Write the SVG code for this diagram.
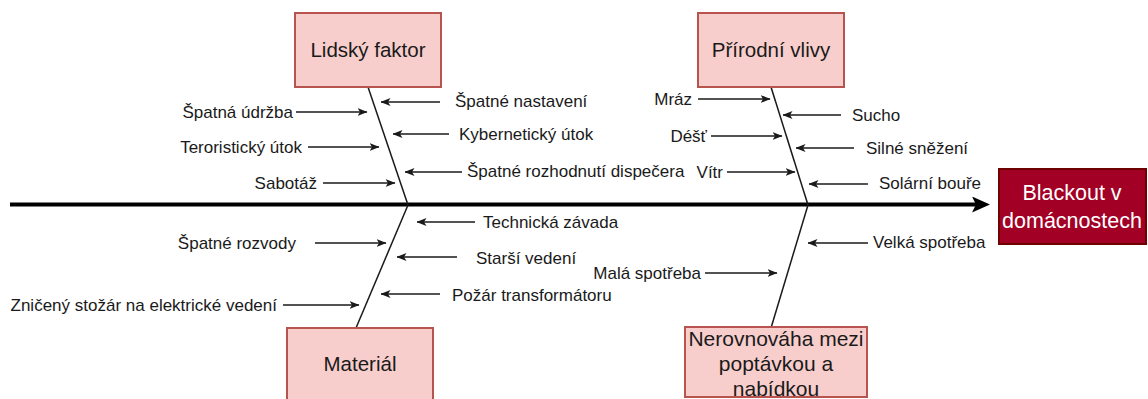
<svg xmlns="http://www.w3.org/2000/svg" width="1148" height="399" viewBox="0 0 1148 399">
<style>
.box{fill:#f8cecc;stroke:#b85450;stroke-width:2}
.eff{fill:#a20025;stroke:#6f0000;stroke-width:2}
.bt{font-family:"Liberation Sans",Arial,sans-serif;font-size:20.5px;fill:#1a1a1a;text-anchor:middle;dominant-baseline:central}
.wt{font-family:"Liberation Sans",Arial,sans-serif;font-size:21.5px;fill:#ffffff;text-anchor:middle;dominant-baseline:central}
.lb{font-family:"Liberation Sans",Arial,sans-serif;font-size:17px;fill:#1a1a1a;dominant-baseline:central}
.e{text-anchor:end}
.bone{stroke:#1a1a1a;stroke-width:1.5;fill:none}
.ar{stroke:#1a1a1a;stroke-width:1.4;fill:none;marker-end:url(#ah)}
.spine{stroke:#000;stroke-width:4;fill:none;marker-end:url(#big)}
</style>
<defs>
<marker id="ah" viewBox="0 0 10 8" refX="9.5" refY="4" markerWidth="10" markerHeight="8" orient="auto" markerUnits="userSpaceOnUse">
<path d="M0,0 L10,4 L0,8 L2.5,4 z" fill="#1a1a1a"/>
</marker>
<marker id="big" viewBox="0 0 18 16" refX="4" refY="8" markerWidth="18" markerHeight="16" orient="auto" markerUnits="userSpaceOnUse">
<path d="M0,0 L18,8 L0,16 L4,8 z" fill="#000"/>
</marker>
</defs>

<g id="connectors">
<line class="spine" x1="10" y1="204.5" x2="976" y2="204.5"/>
<line class="bone" x1="368" y1="87" x2="408" y2="205"/>
<line class="bone" x1="771" y1="87" x2="808" y2="205"/>
<line class="bone" x1="408" y1="205" x2="356" y2="328"/>
<line class="bone" x1="808" y1="205" x2="771" y2="328"/>
<!-- Lidský faktor -->
<line class="ar" x1="296" y1="112" x2="367" y2="112"/>
<line class="ar" x1="308" y1="147" x2="379" y2="147"/>
<line class="ar" x1="323" y1="183" x2="395" y2="183"/>
<line class="ar" x1="440" y1="102" x2="381" y2="102"/>
<line class="ar" x1="449" y1="134" x2="393" y2="134"/>
<line class="ar" x1="462" y1="172" x2="405" y2="172"/>
<!-- Přírodní vlivy -->
<line class="ar" x1="698" y1="99" x2="770" y2="99"/>
<line class="ar" x1="711" y1="136" x2="782" y2="136"/>
<line class="ar" x1="727" y1="172" x2="795" y2="172"/>
<line class="ar" x1="841" y1="115" x2="783" y2="115"/>
<line class="ar" x1="854" y1="148" x2="796" y2="148"/>
<line class="ar" x1="868" y1="184" x2="809" y2="184"/>
<!-- Materiál -->
<line class="ar" x1="475" y1="222" x2="417" y2="222"/>
<line class="ar" x1="315" y1="243" x2="386" y2="243"/>
<line class="ar" x1="457" y1="257" x2="397" y2="257"/>
<line class="ar" x1="440" y1="294" x2="381" y2="294"/>
<line class="ar" x1="283" y1="305" x2="359" y2="305"/>
<!-- Nerovnováha -->
<line class="ar" x1="868" y1="243" x2="808" y2="243"/>
<line class="ar" x1="705" y1="273" x2="777" y2="273"/>
</g>

<g id="effect">
<rect class="eff" x="999" y="169" width="147" height="75"/>
<text class="wt" x="1072" y="193">Blackout v</text>
<text class="wt" x="1072" y="221">domácnostech</text>
</g>

<g id="lidsky-faktor">
<rect class="box" x="295" y="13" width="146" height="74"/>
<text class="bt" x="368" y="49">Lidský faktor</text>
</g>
<g id="prirodni-vlivy">
<rect class="box" x="698" y="13" width="146" height="74"/>
<text class="bt" x="771" y="49">Přírodní vlivy</text>
</g>
<g id="material">
<rect class="box" x="287" y="328" width="146" height="73"/>
<text class="bt" x="360" y="363">Materiál</text>
</g>
<g id="nerovnovaha">
<rect class="box" x="685" y="327" width="182" height="70"/>
<text class="bt" x="776" y="338" style="font-size:21px">Nerovnováha mezi</text>
<text class="bt" x="776" y="363" style="font-size:21px">poptávkou a</text>
<text class="bt" x="776" y="388" style="font-size:21px">nabídkou</text>
</g>

<g id="labels">
<text class="lb e" x="293" y="112">Špatná údržba</text>
<text class="lb e" x="302" y="147">Teroristický útok</text>
<text class="lb e" x="317" y="183">Sabotáž</text>
<text class="lb" x="455" y="101">Špatné nastavení</text>
<text class="lb" x="459" y="134">Kybernetický útok</text>
<text class="lb" x="467" y="171">Špatné rozhodnutí dispečera</text>
<text class="lb e" x="692" y="99">Mráz</text>
<text class="lb e" x="707" y="136">Déšť</text>
<text class="lb e" x="723" y="172">Vítr</text>
<text class="lb" x="852" y="115">Sucho</text>
<text class="lb" x="866" y="148">Silné sněžení</text>
<text class="lb" x="879" y="183">Solární bouře</text>
<text class="lb" x="483" y="222">Technická závada</text>
<text class="lb e" x="296" y="243">Špatné rozvody</text>
<text class="lb" x="476" y="258">Starší vedení</text>
<text class="lb" x="452" y="295">Požár transformátoru</text>
<text class="lb e" x="277" y="305">Zničený stožár na elektrické vedení</text>
<text class="lb" x="873" y="242">Velká spotřeba</text>
<text class="lb e" x="701" y="273">Malá spotřeba</text>
</g>
</svg>
